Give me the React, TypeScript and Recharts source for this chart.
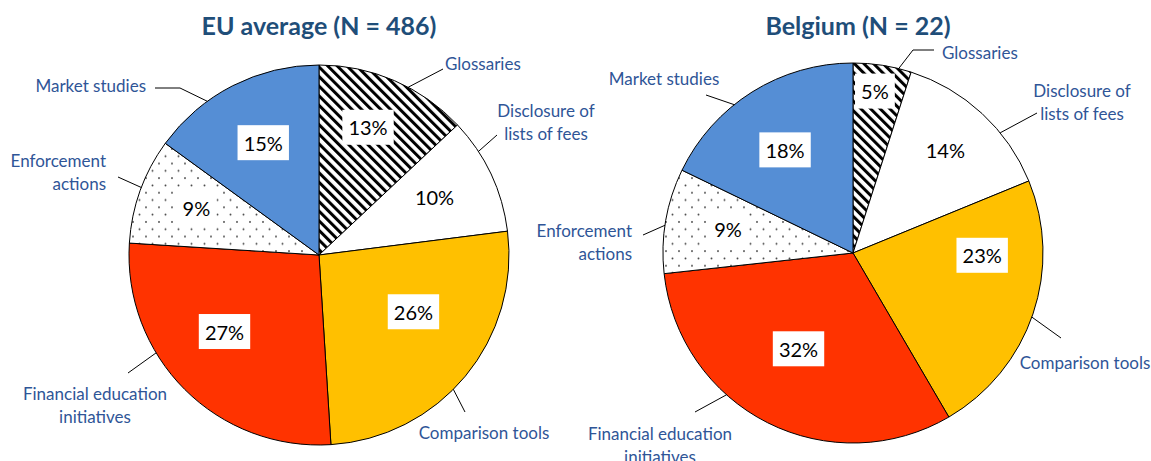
import React from 'react';
import { PieChart, Pie, Cell } from 'recharts';

// ---------- DATA ----------
const categories = [
  'Glossaries',
  'Disclosure of lists of fees',
  'Comparison tools',
  'Financial education initiatives',
  'Enforcement actions',
  'Market studies',
];
const categoryLines = [
  ['Glossaries'],
  ['Disclosure of', 'lists of fees'],
  ['Comparison tools'],
  ['Financial education', 'initiatives'],
  ['Enforcement', 'actions'],
  ['Market studies'],
];
const euValues = [13, 10, 26, 27, 9, 15];
const beValues = [5, 14, 23, 32, 9, 18];
const titles = ['EU average (N = 486)', 'Belgium (N = 22)'];

// ---------- STYLE ----------
const FONT = 'Lato, "Open Sans", sans-serif';
const LABEL_COLOR = '#2F5597';
const TITLE_COLOR = '#1F4E79';
const fills = ['url(#hatch)', '#FFFFFF', '#FFC000', '#FF3300', 'url(#dots)', '#558ED5'];

type Layout = {
  inDA: number;
  inR: number;
  edgeDA: number;
  line: [number, number][];
  text: { x: number; y: number; anchor: 'start' | 'middle' | 'end' };
};

const euLayout: Layout[] = [
  { inDA: -2.4, inR: 0.72, edgeDA: 4.6, line: [[124, -186]], text: { x: 126, y: -192, anchor: 'start' } },
  { inDA: -1.4, inR: 0.68, edgeDA: -7.8, line: [[178, -120]], text: { x: 227, y: -145, anchor: 'middle' } },
  { inDA: -8.6, inR: 0.58, edgeDA: 5.4, line: [[146, 157]], text: { x: 165, y: 177, anchor: 'middle' } },
  { inDA: 6, inR: 0.64, edgeDA: 14, line: [[-191, 118]], text: { x: -224, y: 138, anchor: 'middle' } },
  { inDA: 1, inR: 0.69, edgeDA: 1, line: [[-201, -78]], text: { x: -213, y: -95, anchor: 'end' } },
  { inDA: 0.6, inR: 0.66, edgeDA: -9, line: [[-139, -167], [-164, -167]], text: { x: -173, y: -170, anchor: 'end' } },
];
const beLayout: Layout[] = [
  { inDA: -1.2, inR: 0.86, edgeDA: 5, line: [[60, -203], [81, -203]], text: { x: 89, y: -201, anchor: 'start' } },
  { inDA: -1, inR: 0.73, edgeDA: 8, line: [[184, -140]], text: { x: 229, y: -163, anchor: 'middle' } },
  { inDA: -17.7, inR: 0.68, edgeDA: 1, line: [[208, 85]], text: { x: 232, y: 109, anchor: 'middle' } },
  { inDA: 2.9, inR: 0.58, edgeDA: 15, line: [[-158, 159]], text: { x: -193, y: 180, anchor: 'middle' } },
  { inDA: 1, inR: 0.67, edgeDA: -1.4, line: [[-210, -18]], text: { x: -221, y: -23, anchor: 'end' } },
  { inDA: -1.3, inR: 0.65, edgeDA: -6.6, line: [[-147, -158]], text: { x: -189, y: -175, anchor: 'middle' } },
];

const euData = categories.map((name, i) => ({ name, value: euValues[i] }));
const beData = categories.map((name, i) => ({ name, value: beValues[i] }));

const RAD = Math.PI / 180;
const polar = (cx: number, cy: number, r: number, cw: number): [number, number] => [
  cx + r * Math.sin(cw * RAD),
  cy - r * Math.cos(cw * RAD),
];

const makeLabel = (layout: Layout[]) => (props: any) => {
  const { cx, cy, outerRadius, midAngle, index, value } = props;
  const L = layout[index];
  const mid = 90 - midAngle; // clockwise from top
  const [ix, iy] = polar(cx, cy, outerRadius * L.inR, mid + L.inDA);
  const [ex, ey] = polar(cx, cy, outerRadius, mid + L.edgeDA);
  const txt = `${value}%`;
  const fs = 20;
  const digits = String(value).length;
  const tw = (digits * 0.58 + 0.86) * fs;
  const bw = tw + 11;
  const bh = 35;
  const pts = [[ex, ey], ...L.line.map(([dx, dy]) => [cx + dx, cy + dy])];
  const lines = categoryLines[index];
  return (
    <g>
      <rect x={ix - bw / 2} y={iy - bh / 2} width={bw} height={bh} fill="#FFFFFF" />
      <text x={ix} y={iy} textAnchor="middle" dominantBaseline="central" fontSize={fs} fontFamily={FONT} fill="#000">
        {txt}
      </text>
      <polyline points={pts.map((p) => p.join(',')).join(' ')} fill="none" stroke="#000" strokeWidth={1} />
      {lines.map((ln, k) => (
        <text
          key={k}
          x={cx + L.text.x}
          y={cy + L.text.y + k * 23}
          textAnchor={L.text.anchor}
          dominantBaseline="central"
          fontSize={17}
          fontFamily={FONT}
          fill={LABEL_COLOR}
        >
          {ln}
        </text>
      ))}
    </g>
  );
};

const titleStyle = (left: number): React.CSSProperties => ({
  position: 'absolute',
  left,
  width: 400,
  top: 8,
  lineHeight: '34px',
  textAlign: 'center',
  fontFamily: FONT,
  fontWeight: 700,
  fontSize: 25,
  color: TITLE_COLOR,
  whiteSpace: 'nowrap',
});

export default function App() {
  return (
    <div style={{ position: 'absolute', left: 0, top: 0, width: 1151, height: 461, background: '#fff' }}>
      <div style={titleStyle(119)}>{titles[0]}</div>
      <div style={titleStyle(658)}>{titles[1]}</div>
      <div style={{ position: 'absolute', left: 0, top: 0 }}>
        <PieChart width={1151} height={461} margin={{ top: 0, right: 0, bottom: 0, left: 0 }}>
          <defs>
            <pattern id="hatch" patternUnits="userSpaceOnUse" width={6.8} height={6.8} patternTransform="rotate(-45)">
              <rect x={0} y={0} width={6.8} height={6.8} fill="#fff" />
              <rect x={0} y={0} width={3} height={6.8} fill="#000" />
            </pattern>
            <pattern id="dots" patternUnits="userSpaceOnUse" width={13} height={14.6}>
              <rect x={0} y={0} width={13} height={14.6} fill="#fff" />
              <circle cx={3} cy={3} r={0.95} fill="#444" />
              <circle cx={9.5} cy={10.3} r={0.95} fill="#444" />
            </pattern>
          </defs>
          <Pie
            data={euData}
            dataKey="value"
            nameKey="name"
            cx={319}
            cy={255}
            outerRadius={190}
            startAngle={90}
            endAngle={-270}
            stroke="#000"
            strokeWidth={1}
            isAnimationActive={false}
            labelLine={false}
            label={makeLabel(euLayout)}
          >
            {euData.map((d, i) => (
              <Cell key={d.name} fill={fills[i]} />
            ))}
          </Pie>
          <Pie
            data={beData}
            dataKey="value"
            nameKey="name"
            cx={853}
            cy={253}
            outerRadius={190}
            startAngle={90}
            endAngle={-270}
            stroke="#000"
            strokeWidth={1}
            isAnimationActive={false}
            labelLine={false}
            label={makeLabel(beLayout)}
          >
            {beData.map((d, i) => (
              <Cell key={d.name} fill={fills[i]} />
            ))}
          </Pie>
        </PieChart>
      </div>
    </div>
  );
}
